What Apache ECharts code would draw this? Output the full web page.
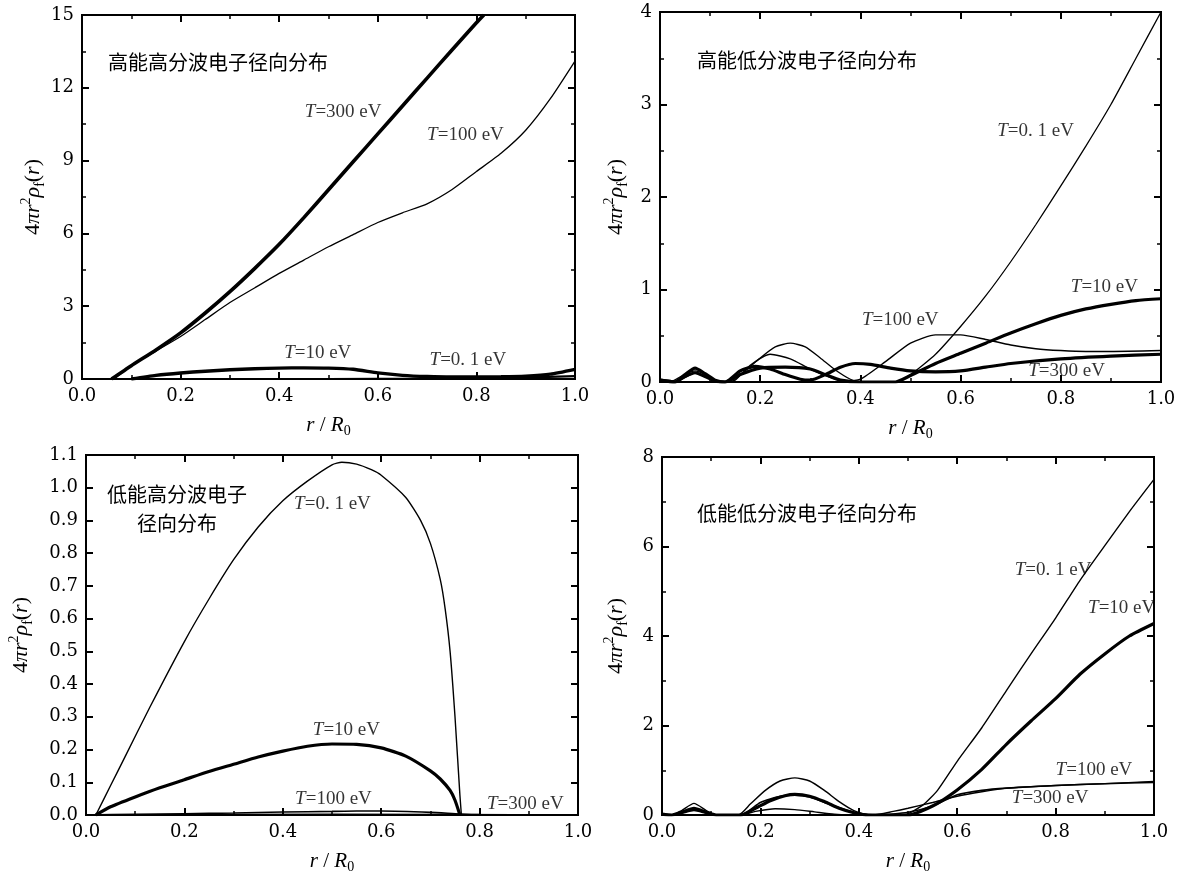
<!DOCTYPE html>
<html><head><meta charset="utf-8">
<script src="https://cdn.jsdelivr.net/npm/echarts@6/dist/echarts.min.js"></script>
<style>html,body{margin:0;padding:0;background:#fff}#c{width:1184px;height:875px}</style>
</head><body><div id="c"></div>
<script>
// ---- Panel titles ----
const panelTitles = ['高能高分波电子径向分布', '高能低分波电子径向分布', '低能高分波电子\n径向分布', '低能低分波电子径向分布'];
const seriesNames = ['T=0.1 eV', 'T=10 eV', 'T=100 eV', 'T=300 eV'];

// ---- Panel 1: high energy, high partial wave ----
const p1_t300_x = [0.06,0.1,0.15,0.2,0.25,0.3,0.35,0.4,0.45,0.5,0.55,0.6,0.65,0.7,0.75,0.8,0.815];
const p1_t300_y = [0,0.55,1.2,1.9,2.72,3.6,4.55,5.55,6.65,7.8,8.95,10.1,11.25,12.4,13.55,14.68,15.0];
const p1_t100_x = [0.065,0.1,0.15,0.2,0.25,0.3,0.35,0.4,0.45,0.5,0.55,0.6,0.65,0.7,0.75,0.8,0.85,0.9,0.95,1.0];
const p1_t100_y = [0,0.55,1.15,1.75,2.45,3.15,3.75,4.35,4.9,5.45,5.95,6.45,6.85,7.22,7.8,8.55,9.3,10.25,11.55,13.1];
const p1_t10_x = [0.1,0.15,0.2,0.25,0.3,0.35,0.4,0.45,0.5,0.55,0.6,0.65,0.7,0.75,0.8,0.85,0.9,0.95,1.0];
const p1_t10_y = [0,0.15,0.25,0.32,0.38,0.42,0.45,0.46,0.45,0.4,0.25,0.15,0.1,0.08,0.08,0.09,0.12,0.2,0.4];
const p1_t01_x = [0,0.5,0.7,0.8,0.9,1.0];
const p1_t01_y = [0,0,0.01,0.03,0.06,0.12];

// ---- Panel 2: high energy, low partial wave ----
const p2_t01_x = [0,0.02,0.045,0.07,0.095,0.12,0.14,0.17,0.2,0.23,0.26,0.29,0.32,0.35,0.38,0.40,0.47,0.5,0.55,0.6,0.65,0.7,0.75,0.8,0.85,0.9,0.95,1.0];
const p2_t01_y = [0,0,0.07,0.12,0.07,0,0,0.12,0.26,0.38,0.42,0.38,0.26,0.13,0.03,0,0,0.08,0.3,0.6,0.93,1.3,1.7,2.12,2.55,3.0,3.5,4.0];
const p2_t100_x = [0,0.03,0.05,0.07,0.09,0.11,0.13,0.15,0.18,0.22,0.26,0.3,0.34,0.37,0.4,0.45,0.5,0.55,0.6,0.65,0.7,0.75,0.8,0.85,0.9,1.0];
const p2_t100_y = [0.02,0,0.05,0.1,0.06,0.01,0,0.02,0.18,0.3,0.25,0.14,0.05,0.01,0.03,0.22,0.42,0.51,0.51,0.46,0.4,0.36,0.34,0.33,0.33,0.34];
const p2_t10_x = [0,0.03,0.05,0.07,0.09,0.11,0.13,0.16,0.2,0.25,0.3,0.33,0.36,0.4,0.44,0.47,0.5,0.55,0.6,0.65,0.7,0.75,0.8,0.85,0.9,0.95,1.0];
const p2_t10_y = [0.02,0,0.08,0.15,0.09,0.02,0,0.08,0.15,0.16,0.14,0.08,0.02,0,0,0,0.07,0.2,0.31,0.42,0.53,0.63,0.72,0.79,0.84,0.88,0.9];
const p2_t300_x = [0,0.03,0.05,0.07,0.09,0.11,0.13,0.16,0.19,0.22,0.25,0.28,0.3,0.33,0.36,0.39,0.42,0.46,0.5,0.55,0.6,0.65,0.7,0.8,0.9,1.0];
const p2_t300_y = [0.02,0,0.06,0.1,0.06,0.01,0,0.12,0.17,0.14,0.08,0.03,0.02,0.08,0.16,0.2,0.19,0.15,0.12,0.11,0.12,0.16,0.2,0.25,0.28,0.3];

// ---- Panel 3: low energy, high partial wave ----
const p3_t01_x = [0.02,0.05,0.08,0.13,0.2,0.25,0.3,0.35,0.4,0.45,0.5,0.52,0.55,0.58,0.6,0.65,0.68,0.7,0.72,0.73,0.74,0.75,0.76,0.763];
const p3_t01_y = [0,0.09,0.18,0.33,0.53,0.66,0.78,0.88,0.96,1.02,1.07,1.078,1.072,1.055,1.038,0.97,0.9,0.83,0.72,0.63,0.5,0.3,0.06,0];
const p3_t10_x = [0.02,0.05,0.1,0.15,0.2,0.25,0.3,0.35,0.4,0.45,0.5,0.55,0.6,0.65,0.7,0.72,0.74,0.75,0.76];
const p3_t10_y = [0,0.025,0.055,0.083,0.108,0.133,0.155,0.177,0.195,0.21,0.217,0.216,0.205,0.18,0.135,0.11,0.075,0.045,0];
const p3_t100_x = [0,0.1,0.2,0.3,0.4,0.5,0.55,0.6,0.7,0.76,0.8,1.0];
const p3_t100_y = [0,0.002,0.004,0.006,0.009,0.011,0.012,0.012,0.008,0.003,0.001,0];
const p3_t300_x = [0,0.5,1.0];
const p3_t300_y = [0,0.002,0];

// ---- Panel 4: low energy, low partial wave ----
const p4_t01_x = [0,0.02,0.04,0.065,0.09,0.11,0.155,0.18,0.21,0.24,0.27,0.3,0.33,0.36,0.39,0.42,0.49,0.53,0.56,0.6,0.65,0.7,0.75,0.8,0.85,0.9,0.95,1.0];
const p4_t01_y = [0.02,0,0.1,0.26,0.1,0,0,0.25,0.55,0.76,0.83,0.76,0.55,0.3,0.1,0,0,0.22,0.55,1.2,1.95,2.78,3.6,4.4,5.25,6.02,6.78,7.5];
const p4_t10_x = [0,0.02,0.04,0.065,0.09,0.11,0.16,0.19,0.22,0.25,0.27,0.3,0.33,0.36,0.39,0.42,0.5,0.55,0.6,0.65,0.7,0.75,0.8,0.85,0.9,0.95,1.0];
const p4_t10_y = [0.02,0,0.06,0.15,0.06,0,0,0.15,0.32,0.43,0.46,0.42,0.3,0.15,0.05,0,0,0.2,0.56,1.02,1.58,2.1,2.6,3.15,3.6,4.0,4.28];
const p4_t100_x = [0,0.02,0.04,0.065,0.09,0.11,0.16,0.19,0.23,0.27,0.31,0.35,0.39,0.43,0.47,0.5,0.55,0.6,0.65,0.7,0.8,0.9,1.0];
const p4_t100_y = [0.02,0,0.05,0.12,0.05,0,0,0.08,0.14,0.12,0.07,0.02,0,0,0.08,0.15,0.28,0.42,0.52,0.6,0.66,0.7,0.75];
const p4_t300_x = [0,0.02,0.04,0.065,0.09,0.11,0.16,0.2,0.24,0.27,0.3,0.35,0.4,0.44,0.5,0.55,0.6,0.65,0.7,0.8,0.9,1.0];
const p4_t300_y = [0.02,0,0.04,0.1,0.04,0,0,0.28,0.42,0.44,0.4,0.2,0.03,0,0.06,0.2,0.45,0.55,0.6,0.66,0.7,0.73];

// ---- axes ----
const xTicks = {min: 0, max: 1, interval: 0.2};
const yRanges = [
  {min: 0, max: 15, interval: 3, dec: 0},
  {min: 0, max: 4, interval: 1, dec: 0},
  {min: 0, max: 1.1, interval: 0.1, dec: 1},
  {min: 0, max: 8, interval: 2, dec: 0}
];
// label anchor positions [x, y] per panel, in data units, in seriesNames order
const labelPos = [
  [[0.705, 0.78], [0.41, 1.07], [0.70, 10.05], [0.452, 11.0]],
  [[0.673, 2.71], [0.82, 1.03], [0.403, 0.67], [0.735, 0.12]],
  [[0.423, 0.951], [0.461, 0.259], [0.425, 0.049], [0.815, 0.0335]],
  [[0.717, 5.47], [0.866, 4.63], [0.80, 1.0], [0.711, 0.377]]
];
const labelText = ['=0. 1 eV', '=10 eV', '=100 eV', '=300 eV'];

const grids = [
  {left: 82, top: 15, width: 493, height: 364},
  {left: 660, top: 12, width: 501, height: 370},
  {left: 86, top: 455, width: 492, height: 361},
  {left: 662, top: 457, width: 492, height: 361}
];
const titlePos = [
  {left: 103, top: 43}, {left: 692, top: 41}, {left: 172, top: 475, textAlign: 'center'}, {left: 692, top: 494}
];
const yNameGap = [31, 30, 51, 32];

const SERIF = "'Liberation Serif','DejaVu Serif',serif";
const TICKF = "'DejaVu Serif','Liberation Serif',serif";
const CJK = "'Noto Sans CJK SC','Noto Sans',sans-serif";

const xAxes = [], yAxes = [];
grids.forEach((g, i) => {
  const base = {
    type: 'value', gridIndex: i,
    axisLine: {show: true, onZero: false, lineStyle: {color: '#000', width: 2}},
    axisTick: {show: true, inside: true, length: 7, lineStyle: {color: '#000', width: 2}},
    minorTick: {show: true, splitNumber: 2, length: 4, lineStyle: {color: '#000', width: 1.5}},
    splitLine: {show: false}
  };
  xAxes.push(Object.assign({}, base, xTicks, {
    position: 'bottom',
    axisLabel: {color: '#000', fontFamily: TICKF, fontSize: 18, margin: 8, formatter: v => v.toFixed(1)},
    name: '{i|r}{n| / }{i|R}{s|0}', nameLocation: 'middle', nameGap: 33,
    nameTextStyle: {rich: {
      i: {fontFamily: SERIF, fontStyle: 'italic', fontSize: 21, color: '#000', lineHeight: 26},
      n: {fontFamily: SERIF, fontSize: 21, color: '#000', lineHeight: 26},
      s: {fontFamily: SERIF, fontSize: 14, color: '#000', lineHeight: 13, verticalAlign: 'bottom'}
    }}
  }));
  xAxes.push(Object.assign({}, base, xTicks, {position: 'top', axisLabel: {show: false}}));
  const yr = yRanges[i];
  yAxes.push(Object.assign({}, base, {min: yr.min, max: yr.max, interval: yr.interval,
    minorTick: Object.assign({}, base.minorTick, {show: i !== 2}),
    position: 'left',
    axisLabel: {color: '#000', fontFamily: TICKF, fontSize: 18, margin: 8, formatter: v => v.toFixed(yr.dec)},
    name: '{n|4}{i|πr}{s|2}{i|ρ}{b|f}{n|(}{i|r}{n|)}', nameLocation: 'middle', nameRotate: 90,
    nameGap: yNameGap[i],
    nameTextStyle: {rich: {
      i: {fontFamily: SERIF, fontStyle: 'italic', fontSize: 22, color: '#000', lineHeight: 28},
      n: {fontFamily: SERIF, fontSize: 22, color: '#000', lineHeight: 28},
      s: {fontFamily: SERIF, fontSize: 14, color: '#000', lineHeight: 15, verticalAlign: 'top'},
      b: {fontFamily: SERIF, fontSize: 14, color: '#000', lineHeight: 13, verticalAlign: 'bottom'}
    }}
  }));
  yAxes.push(Object.assign({}, base, {min: yr.min, max: yr.max, interval: yr.interval,
    minorTick: Object.assign({}, base.minorTick, {show: i !== 2}),
    position: 'right', axisLabel: {show: false}}));
});

const zip = (xs, ys) => xs.map((x, k) => [x, ys[k]]);
const panelData = [
  [[p1_t01_x, p1_t01_y], [p1_t10_x, p1_t10_y], [p1_t100_x, p1_t100_y], [p1_t300_x, p1_t300_y]],
  [[p2_t01_x, p2_t01_y], [p2_t10_x, p2_t10_y], [p2_t100_x, p2_t100_y], [p2_t300_x, p2_t300_y]],
  [[p3_t01_x, p3_t01_y], [p3_t10_x, p3_t10_y], [p3_t100_x, p3_t100_y], [p3_t300_x, p3_t300_y]],
  [[p4_t01_x, p4_t01_y], [p4_t10_x, p4_t10_y], [p4_t100_x, p4_t100_y], [p4_t300_x, p4_t300_y]]
];
// line widths per panel, per series (thin / thick)
const widths = [
  [2.2, 3.4, 1.3, 3.6],
  [1.3, 3.2, 1.4, 3.2],
  [1.4, 3.2, 1.6, 1.6],
  [1.4, 3.2, 1.4, 1.6]
];

const series = [];
panelData.forEach((pd, i) => {
  pd.forEach((d, k) => {
    series.push({
      type: 'line', name: seriesNames[k], xAxisIndex: 2 * i, yAxisIndex: 2 * i,
      data: zip(d[0], d[1]), showSymbol: false, smooth: 0.2, clip: true,
      lineStyle: {color: '#000', width: widths[i][k]}, silent: true
    });
  });
  series.push({
    type: 'scatter', xAxisIndex: 2 * i, yAxisIndex: 2 * i, symbolSize: 0, silent: true,
    data: labelPos[i].map((p, k) => ({value: p, lbl: labelText[k]})),
    label: {show: true, position: 'right', distance: 0,
      formatter: p => '{i|T}{n|' + p.data.lbl + '}',
      rich: {
        i: {fontFamily: SERIF, fontStyle: 'italic', fontSize: 19, color: '#000'},
        n: {fontFamily: SERIF, fontSize: 19, color: '#000'}
      }}
  });
});

const chart = echarts.init(document.getElementById('c'), null, {renderer: 'canvas'});
chart.setOption({
  animation: false,
  backgroundColor: '#fff',
  title: panelTitles.map((t, i) => Object.assign({
    text: t, textStyle: {fontFamily: CJK, fontSize: 20, fontWeight: 'normal', color: '#000', lineHeight: 29}
  }, titlePos[i])),
  grid: grids.map(g => Object.assign({show: true, borderColor: '#000', borderWidth: 2, containLabel: false}, g)),
  xAxis: xAxes, yAxis: yAxes, series: series
});
</script></body></html>
